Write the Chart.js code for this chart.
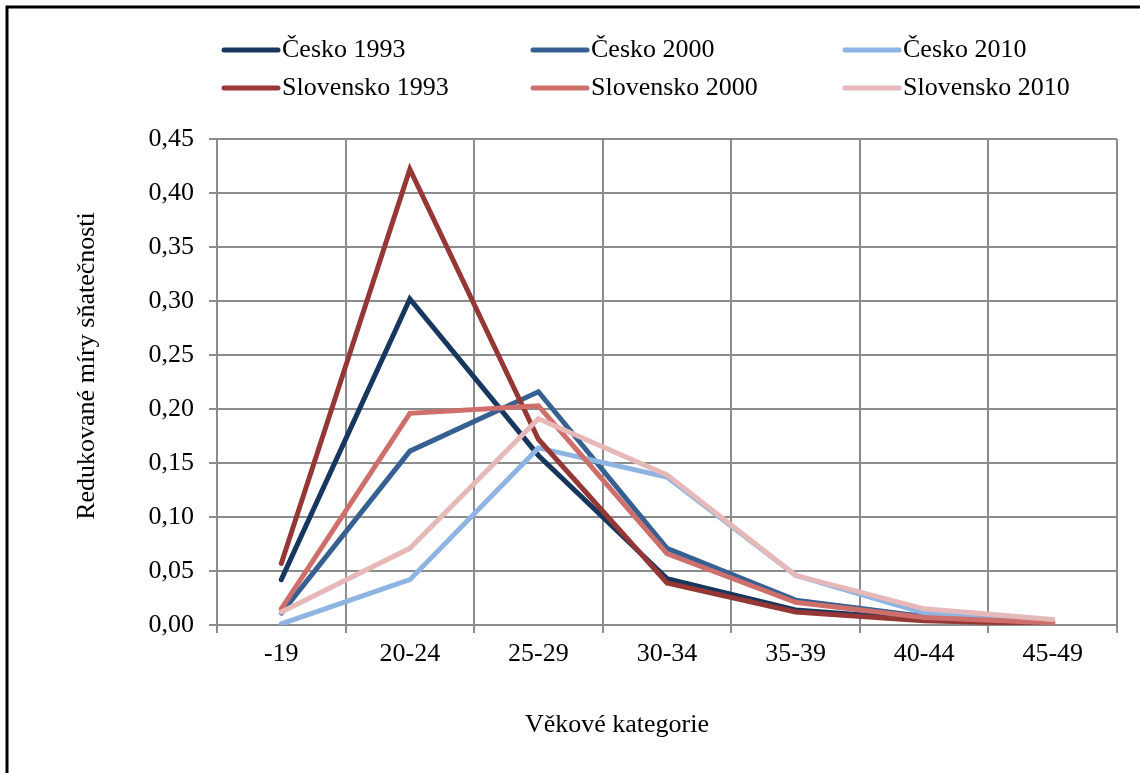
<!DOCTYPE html>
<html>
<head>
<meta charset="utf-8">
<script src="https://cdn.jsdelivr.net/npm/chart.js@4/dist/chart.umd.min.js"></script>
<style>
  html, body { margin: 0; padding: 0; background: #fff; }
  #wrap { width: 1140px; height: 773px; position: relative; }
</style>
</head>
<body>
<div id="wrap"><canvas id="myChart" width="1140" height="773"></canvas></div>
<script>
const categories = ['-19', '20-24', '25-29', '30-34', '35-39', '40-44', '45-49'];

const cesko1993 = [0.042, 0.302, 0.157, 0.043, 0.014, 0.005, 0.002];
const cesko2000 = [0.011, 0.161, 0.216, 0.071, 0.023, 0.008, 0.003];
const cesko2010 = [0.001, 0.042, 0.164, 0.137, 0.046, 0.011, 0.004];
const slovensko1993 = [0.057, 0.422, 0.172, 0.039, 0.012, 0.004, 0.001];
const slovensko2000 = [0.015, 0.196, 0.203, 0.066, 0.021, 0.007, 0.002];
const slovensko2010 = [0.012, 0.071, 0.191, 0.139, 0.046, 0.015, 0.005];

const yTicks = [0, 0.05, 0.10, 0.15, 0.20, 0.25, 0.30, 0.35, 0.40, 0.45];

const FONT = "'Liberation Serif', 'Times New Roman', serif";
const FONT_SIZE = 26;
const gridColor = '#8c8c8c';

function line(label, data, color, order) {
    return {
        label: label,
        data: data,
        borderColor: color,
        backgroundColor: color,
        borderWidth: 5,
        pointRadius: 0,
        tension: 0,
        borderCapStyle: 'round',
        fill: false,
        order: order
    };
}

const datasets = [
    line('Česko 1993', cesko1993, '#17375e', 5),
    line('Česko 2000', cesko2000, '#376092', 4),
    line('Česko 2010', cesko2010, '#8eb4e3', 3),
    line('Slovensko 1993', slovensko1993, '#953735', 2),
    line('Slovensko 2000', slovensko2000, '#cf6f6b', 1),
    line('Slovensko 2010', slovensko2010, '#e6b9b8', 0)
];

// legend in 3 columns x 2 rows, frame and axis titles
const extras = {
    id: 'extras',
    afterDraw(chart) {
        const ctx = chart.ctx;
        ctx.save();
        // frame
        ctx.strokeStyle = '#000';
        ctx.lineWidth = 3;
        ctx.strokeRect(7, 7, 1200, 900);

        ctx.font = FONT_SIZE + 'px ' + FONT;
        ctx.fillStyle = '#000';
        ctx.textBaseline = 'middle';
        const cols = [222, 531, 843];
        const rows = [50, 88];
        chart.data.datasets.forEach((ds, i) => {
            const x = cols[i % 3];
            const y = rows[Math.floor(i / 3)];
            ctx.strokeStyle = ds.borderColor;
            ctx.lineWidth = 5;
            ctx.lineCap = 'round';
            ctx.beginPath();
            ctx.moveTo(x + 2, y);
            ctx.lineTo(x + 56, y);
            ctx.stroke();
            ctx.textAlign = 'left';
            ctx.fillText(ds.label, x + 60, y);
        });

        // axis titles
        ctx.textAlign = 'center';
        ctx.fillText('Věkové kategorie', 617, 725);
        ctx.translate(87, 366);
        ctx.rotate(-Math.PI / 2);
        ctx.fillText('Redukované míry sňatečnosti', 0, 0);
        ctx.restore();
    }
};

const ctx = document.getElementById('myChart').getContext('2d');
const chart = new Chart(ctx, {
    type: 'line',
    data: { labels: categories, datasets: datasets },
    options: {
        responsive: false,
        animation: false,
        layout: { padding: { top: 139, right: 23, left: 0, bottom: 0 } },
        plugins: {
            legend: { display: false },
            tooltip: { enabled: false }
        },
        scales: {
            x: {
                offset: true,
                grid: {
                    offset: true,
                    color: gridColor,
                    lineWidth: 2,
                    tickLength: 8,
                    drawTicks: true
                },
                border: { color: gridColor, width: 2 },
                ticks: {
                    color: '#000',
                    font: { family: FONT, size: FONT_SIZE },
                    padding: 6,
                    maxRotation: 0
                },
                afterFit(scale) { scale.height = 148; }
            },
            y: {
                min: 0,
                max: 0.45,
                afterBuildTicks(scale) {
                    scale.ticks = yTicks.map(v => ({ value: v }));
                },
                grid: {
                    color: gridColor,
                    lineWidth: 2,
                    tickLength: 8
                },
                border: { color: gridColor, width: 2 },
                ticks: {
                    color: '#000',
                    font: { family: FONT, size: FONT_SIZE },
                    padding: 15,
                    callback: v => v.toFixed(2).replace('.', ',')
                },
                afterFit(scale) { scale.width = 217; }
            }
        }
    },
    plugins: [extras]
});
</script>
</body>
</html>
